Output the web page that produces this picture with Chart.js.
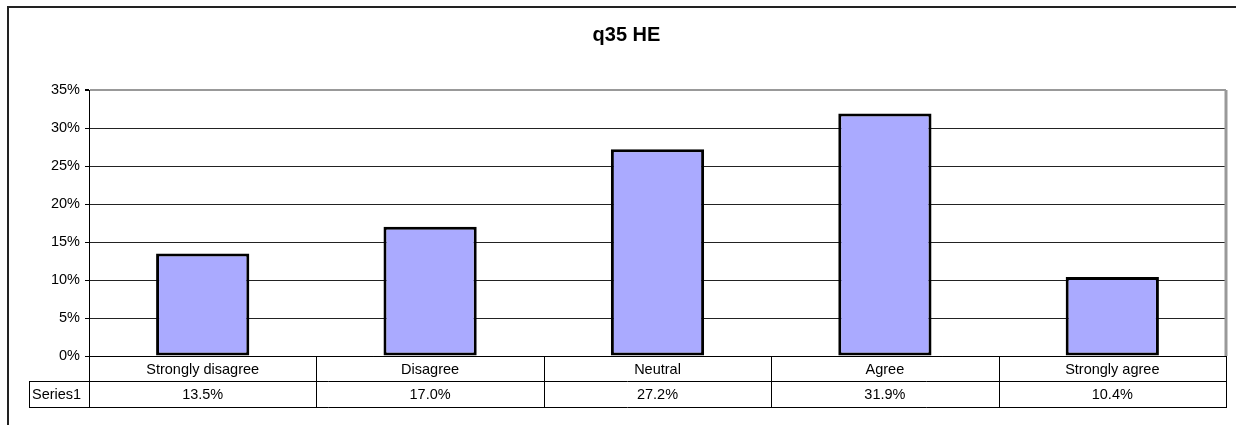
<!DOCTYPE html>
<html>
<head>
<meta charset="utf-8">
<script src="https://cdn.jsdelivr.net/npm/chart.js@4"></script>
<style>
  html, body { margin: 0; padding: 0; background: #fff; }
  #wrap { width: 1236px; height: 425px; position: relative; }
</style>
</head>
<body>
<div id="wrap"><canvas id="myChart"></canvas></div>
<script>
// data
const categories = ['Strongly disagree', 'Disagree', 'Neutral', 'Agree', 'Strongly agree'];
const series1 = [13.5, 17.0, 27.2, 31.9, 10.4];
const seriesName = 'Series1';
const chartTitle = 'q35 HE';

const FONT = '"Liberation Sans", Arial, sans-serif';

// frame + data table below the plot
const tablePlugin = {
    id: 'dataTable',
    afterDraw(chart) {
        const ctx = chart.ctx;
        const area = chart.chartArea;
        const x = chart.scales.x;
        const n = categories.length;
        const colW = (area.right - area.left) / n;
        const row1 = area.bottom + 24.5;
        const row2 = area.bottom + 51;
        const labelLeft = 29;

        ctx.save();
        // outer frame (runs off the window on right/bottom)
        ctx.strokeStyle = '#222';
        ctx.lineWidth = 2;
        ctx.beginPath();
        ctx.moveTo(8, chart.height + 5);
        ctx.lineTo(8, 7);
        ctx.lineTo(chart.width + 5, 7);
        ctx.stroke();

        ctx.strokeStyle = '#000';
        ctx.lineWidth = 1;
        ctx.beginPath();
        // horizontal rows
        ctx.moveTo(labelLeft, Math.round(row1) + 0.5);
        ctx.lineTo(area.right, Math.round(row1) + 0.5);
        ctx.moveTo(labelLeft, Math.round(row2) + 0.5);
        ctx.lineTo(area.right, Math.round(row2) + 0.5);
        // left edge of the series label cell
        ctx.moveTo(labelLeft + 0.5, Math.round(row1));
        ctx.lineTo(labelLeft + 0.5, Math.round(row2) + 1);
        // column boundaries
        for (let i = 0; i <= n; i++) {
            const bx = Math.round(area.left + i * colW) + 0.5;
            ctx.moveTo(bx, area.bottom);
            ctx.lineTo(bx, Math.round(row2) + 1);
        }
        ctx.stroke();

        // texts
        ctx.fillStyle = '#000';
        ctx.font = '14.5px ' + FONT;
        ctx.textBaseline = 'middle';
        const ty = (row1 + row2) / 2 + 1;
        ctx.textAlign = 'left';
        ctx.fillText(seriesName, 32, ty);
        ctx.textAlign = 'center';
        series1.forEach((v, i) => {
            ctx.fillText(v.toFixed(1) + '%', x.getPixelForValue(i), ty);
        });
        ctx.restore();
    }
};

new Chart('myChart', {
    type: 'bar',
    data: {
        labels: categories,
        datasets: [{
            label: seriesName,
            data: series1,
            backgroundColor: '#AAAAFF',
            borderColor: '#000',
            borderWidth: 3,
            borderSkipped: false,
            categoryPercentage: 1,
            barPercentage: 0.41
        }]
    },
    options: {
        responsive: true,
        maintainAspectRatio: false,
        animation: false,
        layout: { padding: { left: 27, right: 10, top: 0, bottom: 0 } },
        plugins: {
            legend: { display: false },
            tooltip: { enabled: false },
            title: {
                display: true,
                text: chartTitle,
                color: '#000',
                font: { family: FONT, size: 20, weight: 'bold', lineHeight: 1.2 },
                padding: { top: 23, bottom: 43 }
            }
        },
        scales: {
            x: {
                grid: { display: false },
                border: { display: true, color: '#000', width: 1 },
                ticks: {
                    color: '#000',
                    font: { family: FONT, size: 14.5 },
                    padding: -3,
                    maxRotation: 0,
                    autoSkip: false
                },
                afterFit(scale) { scale.height = 69; }
            },
            y: {
                min: 0,
                max: 35,
                border: { display: true, color: '#000', width: 1 },
                grid: {
                    color: ctx => ctx.tick && ctx.tick.value === 35 ? '#999' : '#222',
                    lineWidth: ctx => ctx.tick && ctx.tick.value === 35 ? 2 : 1,
                    tickColor: '#000',
                    tickLength: 4
                },
                ticks: {
                    stepSize: 5,
                    color: '#000',
                    padding: 5,
                    font: { family: FONT, size: 14.5 },
                    callback: v => v + '%'
                },
                afterFit(scale) { scale.width = 62; }
            }
        }
    },
    plugins: [tablePlugin, {
        id: 'plotBorder',
        afterDatasetsDraw(chart) {
            const a = chart.chartArea;
            const ctx = chart.ctx;
            ctx.save();
            ctx.strokeStyle = '#999';
            ctx.lineWidth = 3;
            ctx.beginPath();
            ctx.moveTo(a.right, a.top);
            ctx.lineTo(a.right, a.bottom);
            ctx.stroke();
            ctx.restore();
        }
    }]
});
</script>
</body>
</html>
